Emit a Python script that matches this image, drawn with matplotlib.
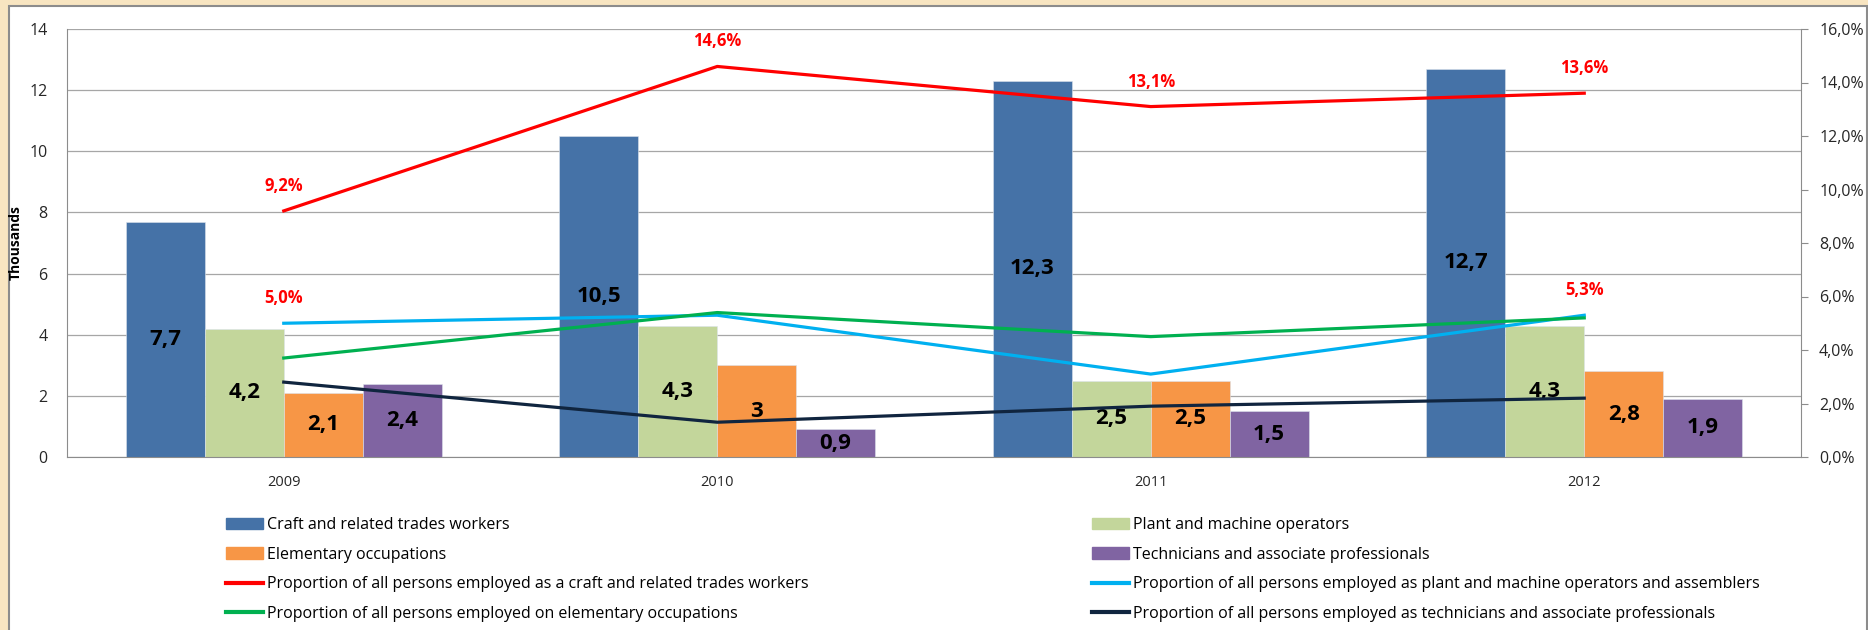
import matplotlib.pyplot as plt
import matplotlib.patches as mpatches
from matplotlib.lines import Line2D
from matplotlib.ticker import FuncFormatter
import numpy as np

# Data
years = ['2009', '2010', '2011', '2012']

craft = [7.7, 10.5, 12.3, 12.7]
plant = [4.2, 4.3, 2.5, 4.3]
elementary = [2.1, 3.0, 2.5, 2.8]
technicians = [2.4, 0.9, 1.5, 1.9]

share_craft = [9.2, 14.6, 13.1, 13.6]
share_plant = [5.0, 5.3, 3.1, 5.3]
share_elementary = [3.7, 5.4, 4.5, 5.2]
share_technicians = [2.8, 1.3, 1.9, 2.2]

bar_names = ['Craft and related trades workers', 'Plant and machine operators',
             'Elementary occupations', 'Technicians and associate professionals']
line_names = ['Proportion of all persons employed as a craft and related trades workers',
              'Proportion of all persons employed as plant and machine operators and assemblers',
              'Proportion of all persons employed on elementary occupations',
              'Proportion of all persons employed as technicians and associate professionals']

# Styling
bar_colors = ['#4572A7', '#C3D69B', '#F79646', '#8064A2']
line_colors = ['#FF0000', '#00B0F0', '#00B050', '#10253F']

plt.rcParams['font.family'] = ['Open Sans', 'DejaVu Sans']

fig = plt.figure(figsize=(18.68, 6.3), dpi=100)
fig.patch.set_facecolor('#F8E5C1')

# White chart area with grey border, kept behind everything
frame = mpatches.Rectangle((9 / 1868, -0.01), 1858 / 1868, 1 - 6 / 630 + 0.01,
                           transform=fig.transFigure, facecolor='white',
                           edgecolor='#8C8C8C', linewidth=1.5, zorder=-10)
fig.patches.append(frame)

ax = fig.add_axes([67 / 1868, 1 - 457 / 630, 1734 / 1868, 428 / 630])
ax.set_facecolor('none')

# Bars
x = np.arange(len(years))
width = 0.182
series = [craft, plant, elementary, technicians]
for i, values in enumerate(series):
    pos = x + (i - 1.5) * width
    ax.bar(pos, values, width, color=bar_colors[i], edgecolor='#DCE3EC',
           linewidth=0.4, zorder=2)
    for px, v in zip(pos, values):
        text = f'{v:g}'.replace('.', ',')
        ax.text(px, v / 2, text, ha='center', va='center', fontsize=16,
                fontweight='bold', color='black', zorder=5)

ax.set_xlim(-0.5, 3.5)
ax.set_ylim(0, 14)
ax.set_yticks(range(0, 15, 2))
ax.set_xticks(x)
ax.set_xticklabels(years)
ax.set_axisbelow(True)
ax.yaxis.grid(True, color='#A6A6A6', linewidth=0.9)
ax.tick_params(axis='x', length=0, pad=13, labelsize=10.5, colors='#262626')
ax.tick_params(axis='y', length=0, pad=14, labelsize=11.5, colors='#262626')
ax.set_ylabel('Thousands', fontsize=10, fontweight='bold')
ax.yaxis.set_label_coords(-0.0254, 0.5)
for side in ['top', 'right']:
    ax.spines[side].set_visible(False)
for side in ['left', 'bottom']:
    ax.spines[side].set_color('#8C8C8C')

# Lines on the right axis
ax2 = ax.twinx()
shares = [share_craft, share_plant, share_elementary, share_technicians]
for i, values in enumerate(shares):
    ax2.plot(x, values, color=line_colors[i], linewidth=2.3, zorder=3)

# Percent labels: all of the red series, first and last of the blue one
for i, v in enumerate(share_craft):
    ax2.annotate(f'{v:.1f}%'.replace('.', ','), (x[i], v), xytext=(0, 18),
                 textcoords='offset points', ha='center', va='center',
                 fontsize=12, fontweight='bold', color='#FF0000')
for i in [0, 3]:
    v = share_plant[i]
    ax2.annotate(f'{v:.1f}%'.replace('.', ','), (x[i], v), xytext=(0, 18),
                 textcoords='offset points', ha='center', va='center',
                 fontsize=12, fontweight='bold', color='#FF0000')

ax2.set_ylim(0, 16)
ax2.set_yticks(range(0, 17, 2))
ax2.yaxis.set_major_formatter(FuncFormatter(lambda v, p: f'{v:.1f}%'.replace('.', ',')))
ax2.tick_params(axis='y', length=5, width=0.8, color='#8C8C8C', pad=8,
                labelsize=11.5, labelcolor='#262626')
for side in ['top', 'left', 'bottom']:
    ax2.spines[side].set_visible(False)
ax2.spines['right'].set_color('#8C8C8C')

# Legend, two columns placed separately
bar_handles = [mpatches.Patch(color=c) for c in bar_colors]
line_handles = [Line2D([0], [0], color=c, linewidth=3) for c in line_colors]

left_handles = [bar_handles[0], bar_handles[2], line_handles[0], line_handles[2]]
left_labels = [bar_names[0], bar_names[2], line_names[0], line_names[2]]
right_handles = [bar_handles[1], bar_handles[3], line_handles[1], line_handles[3]]
right_labels = [bar_names[1], bar_names[3], line_names[1], line_names[3]]

legend_kw = dict(loc='upper left', frameon=False, borderpad=0,
                 borderaxespad=0, handlelength=2.3, handletextpad=0.25,
                 labelspacing=0.85, prop={'family': 'Open Sans', 'size': 11.5})
fig.legend(left_handles, left_labels, bbox_to_anchor=(226 / 1868, 1 - 517 / 630),
           **legend_kw)
fig.legend(right_handles, right_labels, bbox_to_anchor=(1092 / 1868, 1 - 517 / 630),
           **legend_kw)

plt.savefig('out.png', dpi=100, facecolor=fig.get_facecolor())
